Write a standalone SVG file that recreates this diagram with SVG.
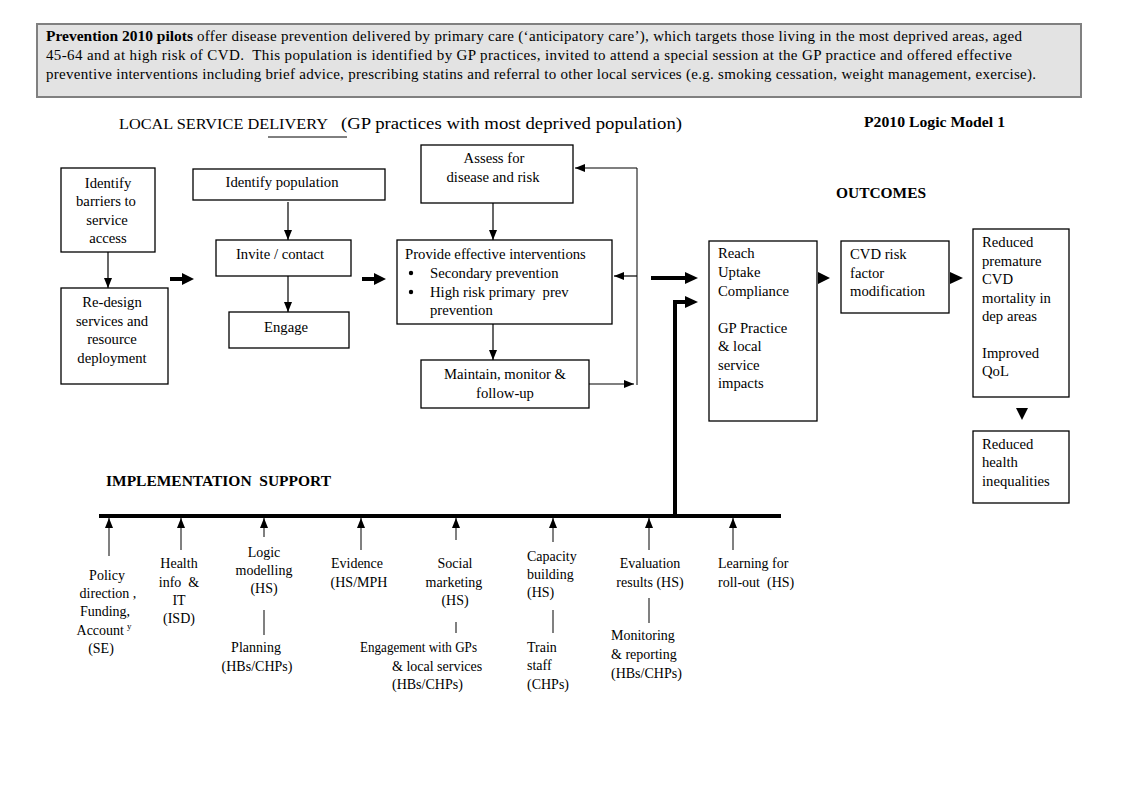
<svg xmlns="http://www.w3.org/2000/svg" width="1122" height="793" viewBox="0 0 1122 793">
<style>
text{font-family:"Liberation Serif","Times New Roman",serif;font-size:14px;fill:#000}
.b{font-weight:bold}
.box{fill:#fff;stroke:#000;stroke-width:1.3}
.n text{font-size:14.7px}
.h{font-size:15px}
.c{text-anchor:middle}
.thin{stroke:#000;stroke-width:1.2;fill:none}
.gray{stroke:#808080;stroke-width:2;fill:none}
.thick{stroke:#000;stroke-width:4;fill:none}
</style>
<defs>
<marker id="ah" markerUnits="userSpaceOnUse" markerWidth="10" markerHeight="8" refX="10" refY="4" orient="auto">
<path d="M0,0 L10,4 L0,8 z" fill="#000"/>
</marker>
</defs>
<rect width="1122" height="793" fill="#fff"/>

<g id="header">
<rect x="37" y="24" width="1044" height="73" fill="#e3e3e3" stroke="#808080" stroke-width="2"/>
<text x="46" y="41" class="b h" textLength="147" lengthAdjust="spacingAndGlyphs">Prevention 2010 pilots</text>
<text x="197" y="41" class="h" textLength="825" lengthAdjust="spacing">offer disease prevention delivered by primary care (‘anticipatory care’), which targets those living in the most deprived areas, aged</text>
<text x="46" y="60" class="h" textLength="966" lengthAdjust="spacing" xml:space="preserve">45-64 and at high risk of CVD.  This population is identified by GP practices, invited to attend a special session at the GP practice and offered effective</text>
<text x="46" y="79" class="h" textLength="990" lengthAdjust="spacing">preventive interventions including brief advice, prescribing statins and referral to other local services (e.g. smoking cessation, weight management, exercise).</text>
</g>

<g id="titles">
<text x="119" y="129" style="font-size:14.5px" textLength="209" lengthAdjust="spacingAndGlyphs">LOCAL SERVICE DELIVERY</text>
<text x="341" y="129" style="font-size:16.5px" textLength="341" lengthAdjust="spacingAndGlyphs">(GP practices with most deprived population)</text>
<line x1="268" y1="137" x2="347" y2="137" stroke="#000" stroke-width="1"/>
<text x="864" y="127" class="b" style="font-size:15px" textLength="141" lengthAdjust="spacingAndGlyphs">P2010 Logic Model 1</text>
<text x="836" y="198" class="b" style="font-size:14.5px" textLength="90" lengthAdjust="spacingAndGlyphs">OUTCOMES</text>
<text x="106" y="486" class="b" style="font-size:14.5px" textLength="225" lengthAdjust="spacingAndGlyphs" xml:space="preserve">IMPLEMENTATION  SUPPORT</text>
</g>

<g id="n-barriers" class="n">
<rect class="box" x="61" y="168" width="94" height="84"/>
<text class="c" x="108" y="188">Identify</text>
<text class="c" x="106" y="206">barriers to</text>
<text class="c" x="107" y="225">service</text>
<text class="c" x="108" y="243">access</text>
</g>
<g id="n-redesign" class="n">
<rect class="box" x="61" y="288" width="107" height="96"/>
<text class="c" x="112" y="307">Re-design</text>
<text class="c" x="112" y="326">services and</text>
<text class="c" x="112" y="344">resource</text>
<text class="c" x="112" y="363">deployment</text>
</g>
<g id="n-idpop" class="n">
<rect class="box" x="193" y="169" width="192" height="31"/>
<text class="c" x="282" y="187">Identify population</text>
</g>
<g id="n-invite" class="n">
<rect class="box" x="216" y="240" width="135" height="36"/>
<text class="c" x="280" y="259">Invite / contact</text>
</g>
<g id="n-engage" class="n">
<rect class="box" x="229" y="312" width="120" height="36"/>
<text class="c" x="286" y="332">Engage</text>
</g>
<g id="n-assess" class="n">
<rect class="box" x="421" y="145" width="152" height="58"/>
<text class="c" x="494" y="163">Assess for</text>
<text class="c" x="493" y="182">disease and risk</text>
</g>
<g id="n-provide" class="n">
<rect class="box" x="397" y="240" width="215" height="84"/>
<text x="405" y="259">Provide effective interventions</text>
<circle cx="411" cy="273" r="2.2" fill="#000"/>
<text x="430" y="278">Secondary prevention</text>
<circle cx="411" cy="292" r="2.2" fill="#000"/>
<text x="430" y="297" xml:space="preserve">High risk primary  prev</text>
<text x="430" y="315">prevention</text>
</g>
<g id="n-maintain" class="n">
<rect class="box" x="421" y="360" width="168" height="48"/>
<text class="c" x="505" y="379">Maintain, monitor &amp;</text>
<text class="c" x="505" y="398">follow-up</text>
</g>

<g id="n-reach" class="n">
<rect class="box" x="709" y="241" width="108" height="180"/>
<text x="718" y="258">Reach</text>
<text x="718" y="277">Uptake</text>
<text x="718" y="296">Compliance</text>
<text x="718" y="333">GP Practice</text>
<text x="718" y="351">&amp; local</text>
<text x="718" y="370">service</text>
<text x="718" y="388">impacts</text>
</g>
<g id="n-cvd" class="n">
<rect class="box" x="841" y="241" width="108" height="72"/>
<text x="850" y="259">CVD risk</text>
<text x="850" y="278">factor</text>
<text x="850" y="296">modification</text>
</g>
<g id="n-mortality" class="n">
<rect class="box" x="973" y="229" width="96" height="168"/>
<text x="982" y="247">Reduced</text>
<text x="982" y="266">premature</text>
<text x="982" y="284">CVD</text>
<text x="982" y="303">mortality in</text>
<text x="982" y="321">dep areas</text>
<text x="982" y="358">Improved</text>
<text x="982" y="376">QoL</text>
</g>
<g id="n-inequal" class="n">
<rect class="box" x="973" y="431" width="96" height="72"/>
<text x="982" y="449">Reduced</text>
<text x="982" y="467">health</text>
<text x="982" y="486">inequalities</text>
</g>

<g id="support-labels">
<text class="c" x="107" y="580">Policy</text>
<text class="c" x="108" y="598">direction ,</text>
<text class="c" x="105" y="616">Funding,</text>
<text class="c" x="104" y="635">Account<tspan dx="3" dy="-6" style="font-size:9px">y</tspan></text>
<text class="c" x="101" y="653">(SE)</text>

<text class="c" x="179" y="568">Health</text>
<text class="c" x="179" y="587" xml:space="preserve">info  &amp;</text>
<text class="c" x="179" y="605">IT</text>
<text class="c" x="179" y="623">(ISD)</text>

<text class="c" x="264" y="557">Logic</text>
<text class="c" x="264" y="575">modelling</text>
<text class="c" x="264" y="593">(HS)</text>
<text class="c" x="256" y="652">Planning</text>
<text class="c" x="257" y="671">(HBs/CHPs)</text>

<text class="c" x="357" y="568">Evidence</text>
<text class="c" x="359" y="587">(HS/MPH</text>

<text class="c" x="455" y="568">Social</text>
<text class="c" x="454" y="587">marketing</text>
<text class="c" x="455" y="605">(HS)</text>
<text x="360" y="652" textLength="117" lengthAdjust="spacingAndGlyphs">Engagement with GPs</text>
<text x="392" y="671">&amp; local services</text>
<text x="392" y="689">(HBs/CHPs)</text>

<text x="527" y="561">Capacity</text>
<text x="527" y="579">building</text>
<text x="527" y="597">(HS)</text>
<text x="527" y="652">Train</text>
<text x="527" y="670">staff</text>
<text x="527" y="689">(CHPs)</text>

<text class="c" x="650" y="568">Evaluation</text>
<text class="c" x="650" y="587">results (HS)</text>
<text x="611" y="640">Monitoring</text>
<text x="611" y="659">&amp; reporting</text>
<text x="611" y="678">(HBs/CHPs)</text>

<text x="718" y="568">Learning for</text>
<text x="718" y="587" xml:space="preserve">roll-out  (HS)</text>
</g>

<g id="connectors">
<line class="thin" x1="108" y1="252" x2="108" y2="288" marker-end="url(#ah)"/>
<line class="thin" x1="288" y1="202" x2="288" y2="240" marker-end="url(#ah)"/>
<line class="thin" x1="288" y1="276" x2="288" y2="312" marker-end="url(#ah)"/>
<line class="thin" x1="493" y1="203" x2="493" y2="240" marker-end="url(#ah)"/>
<line class="thin" x1="493" y1="324" x2="493" y2="360" marker-end="url(#ah)"/>
<line class="thin" x1="589" y1="384" x2="634" y2="384" marker-end="url(#ah)"/>
<line class="gray" x1="637" y1="168" x2="637" y2="385"/>
<line class="thin" x1="637" y1="168" x2="575" y2="168" marker-end="url(#ah)"/>
<line class="thin" x1="637" y1="276" x2="614" y2="276" marker-end="url(#ah)"/>

<line class="thick" x1="170" y1="279" x2="183" y2="279"/>
<polygon points="182,273 194,279 182,285" fill="#000"/>
<line class="thick" x1="362" y1="279" x2="375" y2="279"/>
<polygon points="374,273 386,279 374,285" fill="#000"/>

<line class="thick" x1="651" y1="278" x2="686" y2="278"/>
<polygon points="685,272 698,278 685,284" fill="#000"/>
<polyline class="thick" points="675,516 675,302 686,302"/>
<polygon points="685,296 698,302 685,308" fill="#000"/>

<polygon points="818,272 830,278 818,284" fill="#000"/>
<polygon points="950,272 963,278 950,284" fill="#000"/>
<polygon points="1016,408 1028,408 1022,420" fill="#000"/>

<line x1="99" y1="516" x2="781" y2="516" stroke="#000" stroke-width="4"/>

<line class="gray" x1="109" y1="556" x2="109" y2="518" marker-end="url(#ah)"/>
<line class="gray" x1="181" y1="550" x2="181" y2="518" marker-end="url(#ah)"/>
<line class="gray" x1="264" y1="537" x2="264" y2="518" marker-end="url(#ah)"/>
<line class="gray" x1="264" y1="610" x2="264" y2="635"/>
<line class="gray" x1="361" y1="550" x2="361" y2="518" marker-end="url(#ah)"/>
<line class="gray" x1="456" y1="540" x2="456" y2="518" marker-end="url(#ah)"/>
<line class="gray" x1="456" y1="622" x2="456" y2="633"/>
<line class="gray" x1="553" y1="542" x2="553" y2="518" marker-end="url(#ah)"/>
<line class="gray" x1="553" y1="610" x2="553" y2="633"/>
<line class="gray" x1="649" y1="550" x2="649" y2="518" marker-end="url(#ah)"/>
<line class="gray" x1="649" y1="598" x2="649" y2="623"/>
<line class="gray" x1="733" y1="550" x2="733" y2="518" marker-end="url(#ah)"/>
</g>
</svg>
